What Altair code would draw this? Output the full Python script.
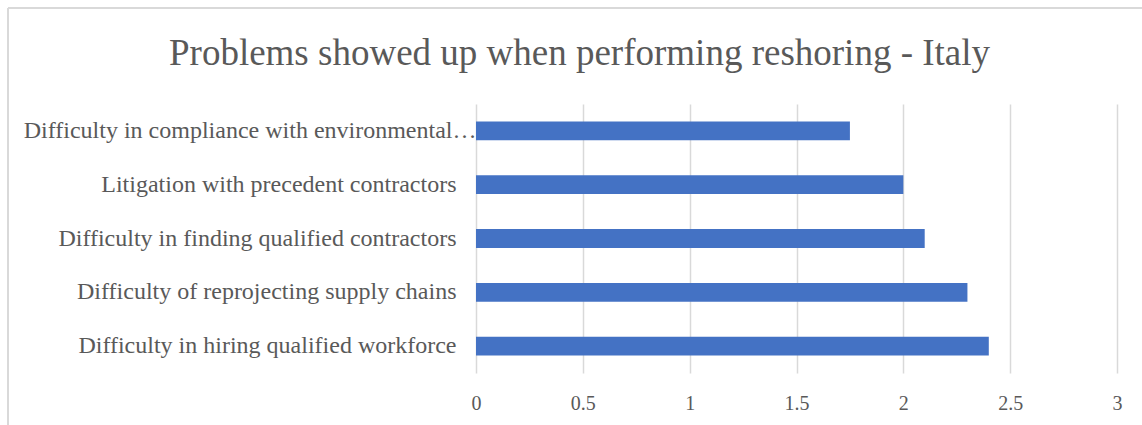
import altair as alt
import pandas as pd

categories = [
    "Difficulty in compliance with environmental…",
    "Litigation with precedent contractors",
    "Difficulty in finding qualified contractors",
    "Difficulty of reprojecting supply chains",
    "Difficulty in hiring qualified workforce",
]
values = [1.75, 2.0, 2.1, 2.3, 2.4]
x_ticks = [0, 0.5, 1, 1.5, 2, 2.5, 3]

df = pd.DataFrame({"problem": categories, "score": values})

FONT = "Liberation Serif"
TEXT = "#595959"
GRID = "#D9D9D9"

bars = alt.Chart(df).mark_bar(color="#4472C4").encode(
    x=alt.X(
        "score:Q",
        scale=alt.Scale(domain=[0, 3], nice=False),
        axis=alt.Axis(
            values=x_ticks,
            format="~g",
            title=None,
            domain=False,
            ticks=False,
            grid=True,
            gridColor=GRID,
            gridWidth=1.5,
            labelFont=FONT,
            labelFontSize=20,
            labelColor=TEXT,
            labelPadding=20,
            labelFlush=False,
        ),
    ),
    y=alt.Y(
        "problem:N",
        sort=categories,
        scale=alt.Scale(paddingInner=0.65, paddingOuter=0.325),
        axis=alt.Axis(
            title=None,
            domain=False,
            ticks=False,
            grid=False,
            labelFont=FONT,
            labelFontSize=24,
            labelColor=TEXT,
            labelPadding={"condition": {"test": "datum.index == 0", "value": 0}, "value": 20},
            labelLimit=600,
        ),
    ),
)

frame_top = alt.Chart(df).mark_rule(color=GRID, strokeWidth=1.5).encode(
    x=alt.value(-468), x2=alt.value(700), y=alt.value(-96)
)
frame_left = alt.Chart(df).mark_rule(color=GRID, strokeWidth=1.5).encode(
    x=alt.value(-468), y=alt.value(-96), y2=alt.value(330)
)

chart = alt.layer(bars, frame_top, frame_left).properties(
    width=641,
    height=269,
    padding={"left": 476, "top": 104, "right": 25, "bottom": 52},
    autosize=alt.AutoSizeParams(type="none"),
    view=alt.ViewBackground(stroke="transparent"),
    title=alt.TitleParams(
        "Problems showed up when performing reshoring - Italy",
        font=FONT,
        fontSize=37,
        fontWeight="normal",
        color=TEXT,
        anchor="middle",
        frame="group",
        dx=-217,
        dy=94,
        offset=28,
    ),
).configure_view(stroke="transparent").configure(background="white")

chart.save("out.html", embed_options={"renderer": "svg", "actions": False})
